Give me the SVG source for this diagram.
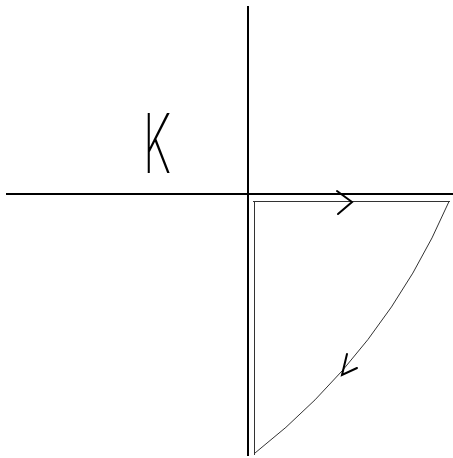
<svg xmlns="http://www.w3.org/2000/svg" width="453" height="458" viewBox="0 0 453 458">
<style>
.axis{stroke:#000;stroke-width:2;fill:none}
.contour{stroke:#333;stroke-width:1;fill:none}
.arrow{stroke:#000;stroke-width:2;fill:none;stroke-linecap:round;stroke-linejoin:miter}
.lbl{font-family:"Inter","Lato","Liberation Sans",sans-serif;font-weight:200;font-size:82px;fill:#000}
</style>
<rect width="453" height="458" fill="#fff"/>
<g id="axes">
<line class="axis" x1="6" y1="194" x2="453" y2="194"/>
<line class="axis" x1="248" y1="6" x2="248" y2="456"/>
</g>
<g id="label-K">
<text class="lbl" transform="translate(143,173) scale(0.55,1)" x="0" y="0">K</text>
</g>
<g id="connectors">
<line class="contour" x1="253" y1="201.5" x2="450" y2="201.5"/>
<path class="contour" d="M449,201.5 A637,637 0 0 1 255,453"/>
<line class="contour" x1="254.5" y1="201" x2="254.5" y2="455" stroke="#777"/>
<polyline class="arrow" points="337,191 352,202 338,214"/>
<polyline class="arrow" points="347,354 342,375 357,368"/>
</g>
</svg>
